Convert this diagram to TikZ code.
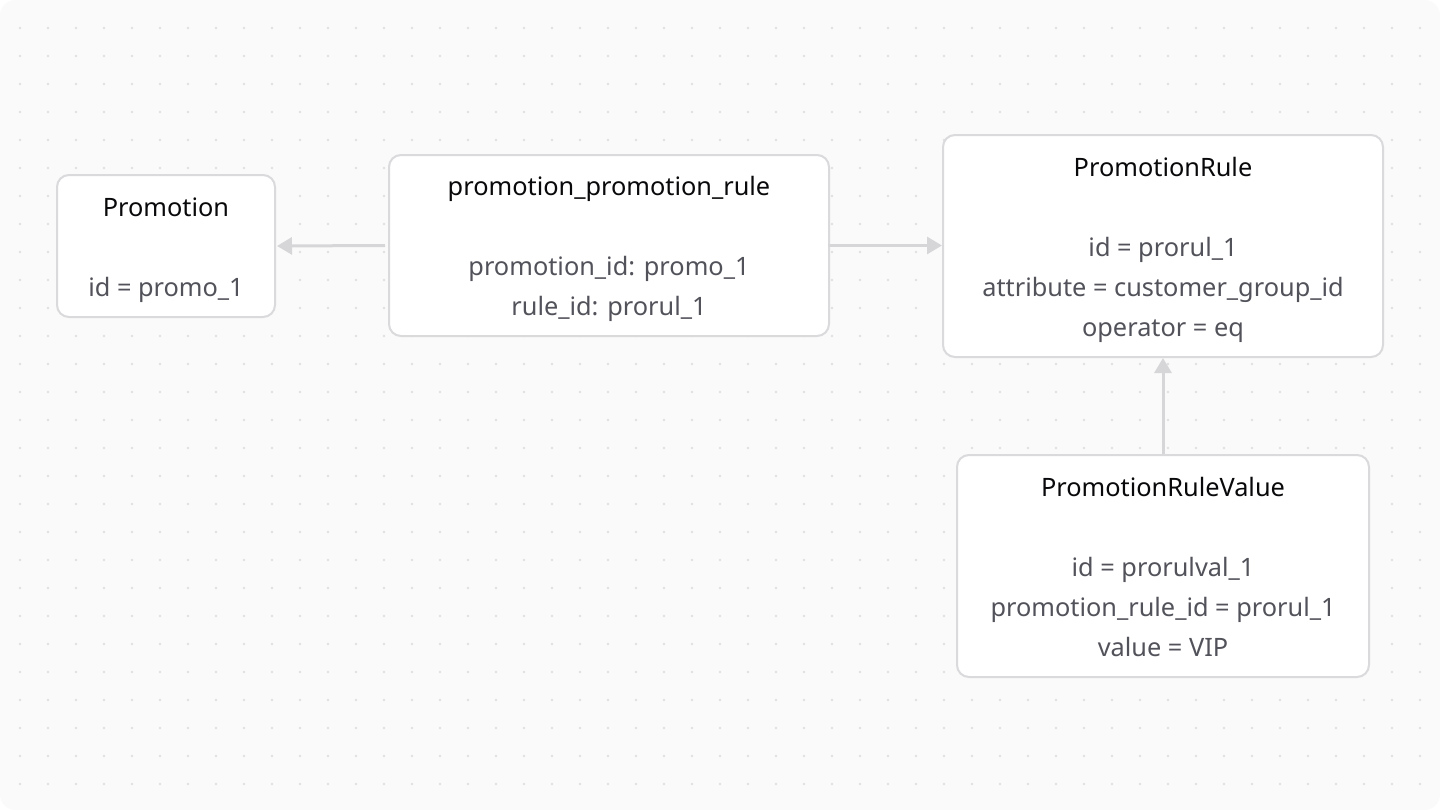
\documentclass[tikz,border=0pt]{standalone}
\usepackage{fontspec}
\setmainfont{Noto Sans}
\usetikzlibrary{arrows.meta}

\definecolor{bgFill}{HTML}{FAFAFA}
\definecolor{gridDot}{HTML}{E0E0E2}
\definecolor{boxLine}{HTML}{DADADD}
\definecolor{arrowLine}{HTML}{D6D6D9}
\definecolor{titleText}{HTML}{09090B}
\definecolor{bodyText}{HTML}{52525B}

\tikzset{every picture/.style={line width=0.75pt}}
\tikzset{
	entity/.style={draw=boxLine, line width=1.5pt, fill=white, rounded corners=9pt, align=center, inner sep=0pt, text=bodyText, font=\fontsize{19}{30}\selectfont},
	link/.style={draw=arrowLine, line width=2.25pt, -{Triangle[length=11.25pt,width=12.75pt]}}
}
\newcommand{\entitle}[1]{\rule{0pt}{20pt}{\color{titleText}#1}\\[30pt]}
\newcommand{\lastdepth}{\rule[-5pt]{0pt}{5pt}}

\begin{document}
\begin{tikzpicture}[x=0.75pt,y=0.75pt,yscale=-1,xscale=1]
	\useasboundingbox (0,0) rectangle (1440,810);
	
	%Background
	\fill [white] (0,0) rectangle (1440,810);
	\fill [bgFill, rounded corners=12pt] (0,0) rectangle (1440,810);
	\foreach \i in {0,...,50}
		\foreach \j in {0,...,27}
			\fill [gridDot] (20+28*\i,28+28*\j) circle (1.1pt);
	
	% Text Node
	\draw (166,246) node [entity, minimum width=163.5pt, minimum height=106.5pt] (promo) {\entitle{Promotion}id = promo\_1};
	% Text Node
	\draw (609,245.5) node [entity, minimum width=330pt, minimum height=135.75pt] (joinRule) {\entitle{promotion\_promotion\_rule}promotion\_id: promo\_1\\rule\_id: prorul\_1};
	% Text Node
	\draw (1163,246) node [entity, minimum width=330pt, minimum height=166.5pt] (rule) {\entitle{PromotionRule}id = prorul\_1\\attribute = customer\_group\_id\\operator = eq};
	% Text Node
	\draw (1163,566) node [entity, minimum width=309pt, minimum height=166.5pt] (ruleValue) {\entitle{PromotionRuleValue}id = prorulval\_1\\promotion\_rule\_id = prorul\_1\\value = VIP\lastdepth};
	
	%Straight Lines
	\draw [link, shorten <=2.25pt, shorten >=0.75pt] (joinRule.west) -- (promo.east);
	%Straight Lines
	\draw [link, shorten <=-1.5pt] (joinRule.east) -- (joinRule.east -| rule.west);
	%Straight Lines
	\draw [link] (ruleValue.north) -- (rule.south);
	
\end{tikzpicture}
\end{document}
